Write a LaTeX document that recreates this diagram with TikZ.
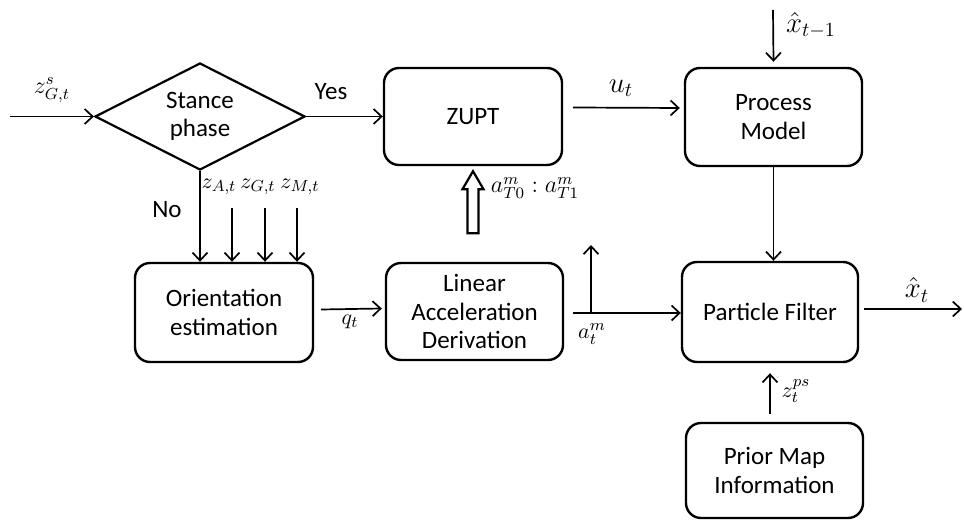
\documentclass[tikz,border=0pt]{standalone}
\usepackage{fontspec}
\setmainfont{Carlito}
\usetikzlibrary{arrows.meta,shapes.geometric,calc}

\begin{document}
\begin{tikzpicture}[x=0.5pt,y=-0.5pt,
  block/.style={draw,line width=1.2pt,rounded corners=7.5pt,align=center,
    font=\fontsize{12.5}{14.25}\selectfont,inner sep=0pt},
  decision/.style={draw,diamond,line width=1.1pt,aspect=2,inner sep=0pt,
    align=center,font=\fontsize{12.5}{14.25}\selectfont},
  arr/.style={-{Straight Barb[length=4pt,width=7.5pt]},line width=0.85pt},
  word/.style={inner sep=0pt,font=\fontsize{12.5}{14.25}\selectfont},
  big/.style={inner sep=0pt,font=\fontsize{14.4}{17}\selectfont},
  mid/.style={inner sep=0pt,font=\fontsize{12}{14}\selectfont},
  small/.style={inner sep=0pt,font=\fontsize{10.95}{13}\selectfont}]
\useasboundingbox (0,0) rectangle (964,523);

% blocks
\node[decision,minimum width=105pt,minimum height=53.5pt] (stance) at (200,116.5) {Stance\\phase};
\node[block,minimum width=89pt,minimum height=48.5pt] (zupt) at (473,116.5) {ZUPT};
\node[block,minimum width=88.5pt,minimum height=49pt] (proc) at (773.5,117) {Process\\Model};
\node[block,minimum width=89pt,minimum height=49.5pt] (orient) at (224,312.5) {Orientation\\estimation};
\node[block,minimum width=88.5pt,minimum height=48.5pt] (lin) at (474.5,311.5) {Linear\\Acceleration\\Derivation};
\node[block,minimum width=88pt,minimum height=50pt] (pf) at (770,312) {Particle Filter};
\node[block,minimum width=88.5pt,minimum height=47.5pt] (prior) at (774.5,470.5) {Prior Map\\Information};

% free ends
\coordinate (zin) at (10,116.5);
\coordinate (xprev) at (773,10);
\coordinate (xout) at (962,309);
\coordinate (branch) at (591,313);
\coordinate (branchtop) at (591,245);

% stance detection and ZUPT path
\draw[arr] (zin) -- (stance.west);
\node[mid] (zsg) at (52,90) {$z^{s}_{G,t}$};
\draw[arr] (stance.east) -- (zupt.west);
\node[word] (yes) at (331,92) {Yes};
\draw[arr] ($(zupt.east)+(10,-9)$) -- ($(proc.west)+(-4,-9)$);
\node[big] (ut) at (621,88) {$u_t$};

% process model inputs and output
\draw[arr] (xprev) -- ($(proc.north)+(0,-5)$);
\node[big] (xprevlbl) at (811,25) {$\hat{x}_{t-1}$};
\draw[arr] (proc.south) -- (proc.south |- pf.north);

% orientation branch
\draw[arr] (stance.south) -- (stance.south |- orient.north);
\node[word] (no) at (167,210) {No};
\foreach \xx/\nm in {232/acc,265/gyr,297/mag}{
  \coordinate (\nm top) at (\xx,208);
  \draw[arr] (\nm top) -- (\nm top |- orient.north);
}
\node[small] (zA) at (219,187) {$z_{A,t}$};
\node[small] (zG) at (258,187) {$z_{G,t}$};
\node[small] (zM) at (300,187) {$z_{M,t}$};

\draw[arr] ($(orient.east)+(7,-3)$) -- ($(lin.west)+(-3,-3)$);
\node[small] (qt) at (350,322) {$q_t$};

% linear acceleration to the particle filter
\draw[arr] ($(lin.east)+(9,1.5)$) -- (pf.west |- branch);
\draw[arr] (branch) -- (branchtop);
\node[small] (atm) at (592,334) {$a^{m}_{t}$};

% hollow arrow feeding ZUPT
\draw[line width=1.1pt,line join=miter]
  ($(zupt.south)+(0,5)$) coordinate (acctip) -- ++(10.5,18) -- ++(-5,0) -- ++(0,44)
  -- ++(-11,0) -- ++(0,-44) -- ++(-5,0) -- cycle;
\node[mid] (aT) at (535,188) {$a^{m}_{T0}:a^{m}_{T1}$};

% particle filter output and map input
\draw[arr] ($(pf.east)+(5,-3)$) -- (xout);
\node[big] (xt) at (917,290) {$\hat{x}_t$};
\draw[arr] ($(pf.south |- prior.north)+(0,-8)$) -- ($(pf.south)+(0,10)$);
\node[small] (zps) at (796,391) {$z^{ps}_{t}$};
\end{tikzpicture}
\end{document}
